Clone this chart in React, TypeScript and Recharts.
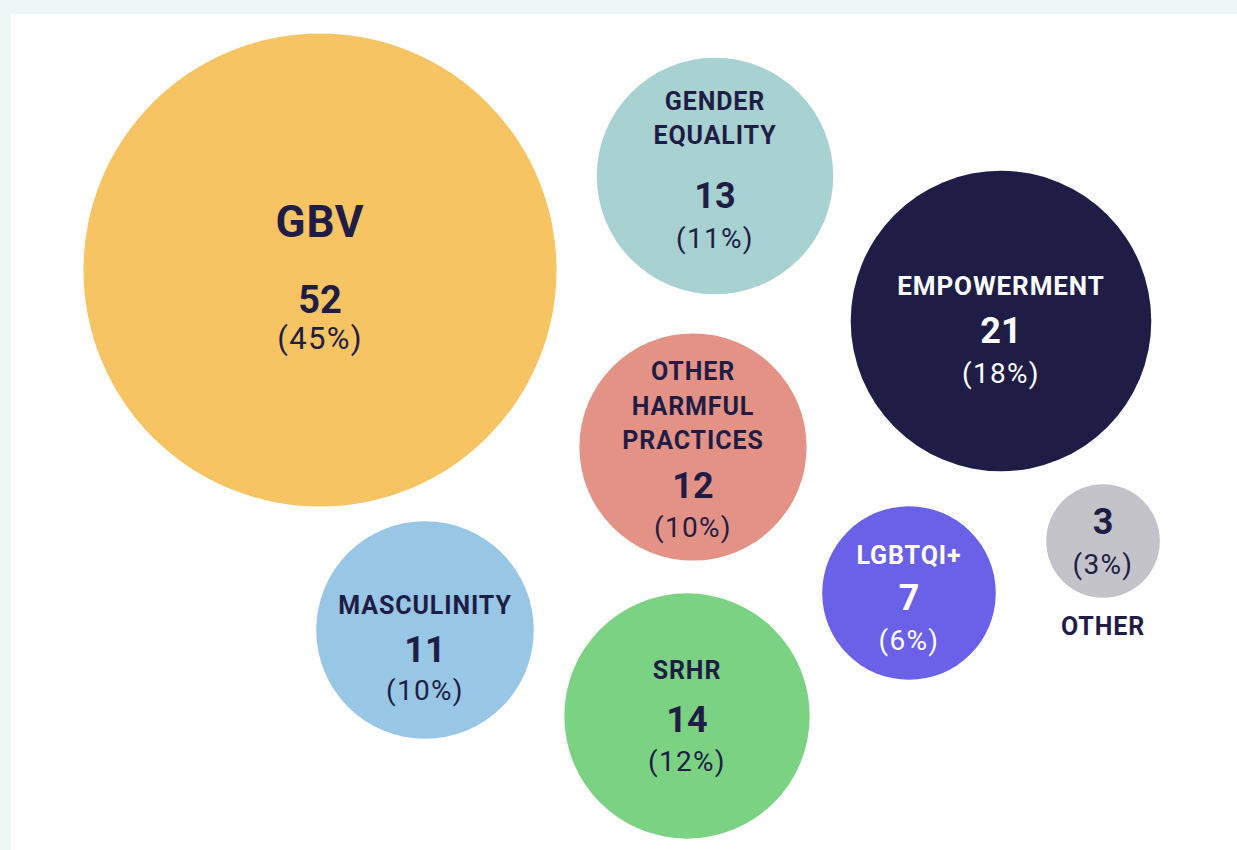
import React from "react";
import { ScatterChart, Scatter, XAxis, YAxis, ZAxis, Cell } from "recharts";

// topic counts
const topics = ["GBV", "GENDER EQUALITY", "EMPOWERMENT", "OTHER HARMFUL PRACTICES", "MASCULINITY", "SRHR", "LGBTQI+", "OTHER"];
const counts = [52, 13, 21, 12, 11, 14, 7, 3];
const shares = [45, 11, 18, 10, 10, 12, 6, 3];
// bubble centres, in page pixels
const xs = [320, 715, 1001, 693, 425, 687, 909, 1103];
const ys = [270, 176, 321, 447, 630, 716, 593, 541];

const colors = ["#f6c463", "#a8d1d1", "#1f1d45", "#e49286", "#98c7e5", "#7bd283", "#6b60e8", "#c4c3c9"];
const dark = "#1f1d45";

// label lines and text offsets (relative to the bubble centre)
const layout: Record<string, { lines: string[]; lineY: number[]; titleSize: number; valueY: number; valueSize: number; pctY: number; pctSize: number; light?: boolean }> = {
  GBV: { lines: ["GBV"], lineY: [-48], titleSize: 44, valueY: 30, valueSize: 38, pctY: 68, pctSize: 31 },
  "GENDER EQUALITY": { lines: ["GENDER", "EQUALITY"], lineY: [-75, -41], titleSize: 25, valueY: 20, valueSize: 36, pctY: 62, pctSize: 28 },
  EMPOWERMENT: { lines: ["EMPOWERMENT"], lineY: [-35], titleSize: 26, valueY: 10, valueSize: 36, pctY: 52, pctSize: 28, light: true },
  "OTHER HARMFUL PRACTICES": { lines: ["OTHER", "HARMFUL", "PRACTICES"], lineY: [-76, -41, -7], titleSize: 25, valueY: 39, valueSize: 36, pctY: 80, pctSize: 28 },
  MASCULINITY: { lines: ["MASCULINITY"], lineY: [-25], titleSize: 25, valueY: 20, valueSize: 36, pctY: 60, pctSize: 28 },
  SRHR: { lines: ["SRHR"], lineY: [-46], titleSize: 25, valueY: 4, valueSize: 36, pctY: 45, pctSize: 28 },
  "LGBTQI+": { lines: ["LGBTQI+"], lineY: [-38], titleSize: 25, valueY: 5, valueSize: 36, pctY: 47, pctSize: 28, light: true },
  OTHER: { lines: ["OTHER"], lineY: [85], titleSize: 25, valueY: -19, valueSize: 36, pctY: 23, pctSize: 28 },
};

const data = topics.map((name, i) => ({ name, x: xs[i], y: ys[i], value: counts[i], pct: shares[i] }));

const font = "Roboto, 'Noto Sans', sans-serif";

function Bubble(props: any) {
  const { cx, cy, width, fill, payload } = props;
  const r = width / 2;
  const l = layout[payload.name];
  const txt = l.light ? "#ffffff" : dark;
  return (
    <g>
      <circle cx={cx} cy={cy} r={r} fill={fill} />
      {l.lines.map((line, i) => (
        <text
          key={i}
          x={cx}
          y={cy + l.lineY[i]}
          textAnchor="middle"
          dominantBaseline="central"
          fontFamily={font}
          fontWeight={700}
          fontSize={l.titleSize}
          letterSpacing={0.9}
          fill={payload.name === "OTHER" ? dark : txt}
        >
          {line}
        </text>
      ))}
      <text x={cx} y={cy + l.valueY} textAnchor="middle" dominantBaseline="central" fontFamily={font} fontWeight={700} fontSize={l.valueSize} fill={txt}>
        {payload.value}
      </text>
      <text x={cx} y={cy + l.pctY} textAnchor="middle" dominantBaseline="central" fontFamily={font} fontWeight={400} fontSize={l.pctSize} letterSpacing={1.3} fill={txt}>
        ({payload.pct}%)
      </text>
    </g>
  );
}

export default function App() {
  return (
    <div style={{ position: "relative", width: 1237, height: 850, background: "#eef6f5", overflow: "hidden" }}>
      <style>{"body{margin:0}"}</style>
      <div style={{ position: "absolute", left: 11, top: 14, right: 0, bottom: 0, background: "#ffffff" }} />
      <div style={{ position: "absolute", left: 0, top: 0 }}>
        <ScatterChart width={1237} height={850} margin={{ top: 0, right: 0, bottom: 0, left: 0 }}>
          <XAxis type="number" dataKey="x" domain={[0, 1237]} hide />
          <YAxis type="number" dataKey="y" domain={[0, 850]} reversed hide width={0} />
          <ZAxis type="number" dataKey="value" domain={[0, 52]} range={[0, Math.PI * 236.5 * 236.5]} />
          <Scatter data={data} shape={<Bubble />} isAnimationActive={false}>
            {data.map((d, i) => (
              <Cell key={d.name} fill={colors[i]} />
            ))}
          </Scatter>
        </ScatterChart>
      </div>
    </div>
  );
}
